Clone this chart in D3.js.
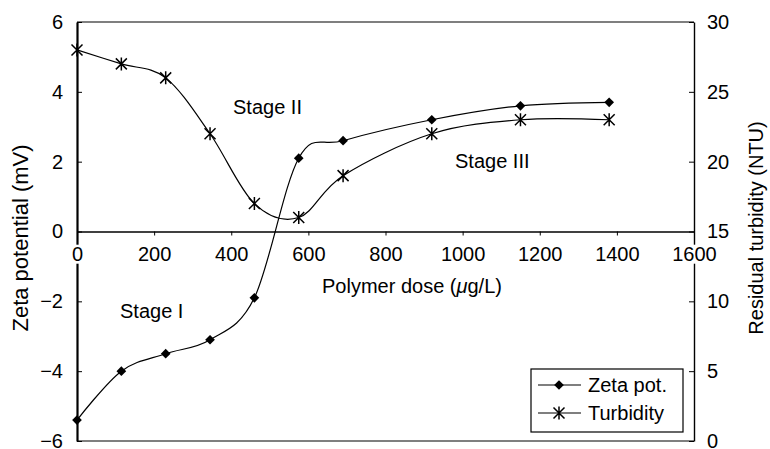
<!DOCTYPE html>
<html>
<head>
<meta charset="utf-8">
<script src="https://cdn.jsdelivr.net/npm/d3@7"></script>
<style>
  body { margin: 0; background: #fff; }
  svg text { font-family: "Liberation Sans", Arial, Helvetica, sans-serif; fill: #000; }
</style>
</head>
<body>
<svg width="770" height="449"></svg>
<script>
var doses = [0, 115, 230, 345, 460, 575, 690, 920, 1150, 1380]
var zeta = [-5.4, -4.0, -3.5, -3.1, -1.9, 2.1, 2.6, 3.2, 3.6, 3.7]
var turbidity = [28, 27, 26, 22, 17, 16, 19, 22, 23, 23]
var xTicks = [0, 200, 400, 600, 800, 1000, 1200, 1400, 1600]
var zetaTicks = [-6, -4, -2, 0, 2, 4, 6]
var turbTicks = [0, 5, 10, 15, 20, 25, 30]
var stages = [["Stage I", 120, 318], ["Stage II", 233, 114], ["Stage III", 455, 168]]

function makeChart() {
    var svg = d3.select("svg")
    var pL = 77, pR = 694, pT = 22, pB = 441

    var scX = d3.scaleLinear().domain([0, 1600]).range([pL, pR]),
        scZ = d3.scaleLinear().domain([-6, 6]).range([pB, pT]),
        scT = d3.scaleLinear().domain([0, 30]).range([pB, pT])

    // Rahmen oben/unten
    svg.append("line").attr("x1", pL).attr("x2", pR).attr("y1", pT).attr("y2", pT)
        .attr("stroke", "#000").attr("stroke-width", 1.2)
    svg.append("line").attr("x1", pL).attr("x2", pR).attr("y1", pB).attr("y2", pB)
        .attr("stroke", "#000").attr("stroke-width", 1.2)

    // linke Achse
    var axL = svg.append("g").attr("transform", "translate(" + pL + ",0)")
        .call(d3.axisLeft(scZ).tickValues(zetaTicks).tickFormat(d3.format("d"))
            .tickSize(-5).tickPadding(14).tickSizeOuter(0))
    axL.select(".domain").attr("stroke-width", 2.2)
    axL.selectAll("text").attr("font-size", 20)

    // rechte Achse
    var axR = svg.append("g").attr("transform", "translate(" + pR + ",0)")
        .call(d3.axisRight(scT).tickValues(turbTicks).tickFormat(d3.format("d"))
            .tickSize(-5).tickPadding(13).tickSizeOuter(0))
    axR.select(".domain").attr("stroke-width", 1.4)
    axR.selectAll("text").attr("font-size", 20)

    // x-Achse bei Zeta = 0, Beschriftung mit weissem Hintergrund
    var axB = svg.append("g").attr("transform", "translate(0," + scZ(0) + ")")
        .call(d3.axisBottom(scX).tickValues(xTicks).tickFormat(d3.format("d"))
            .tickSize(4).tickPadding(11).tickSizeOuter(0))
    axB.select(".domain").attr("stroke-width", 1.4)
    axB.selectAll("text").attr("font-size", 20)
    axB.selectAll(".tick").each(function () {
        var t = d3.select(this).select("text")
        var b = t.node().getBBox()
        d3.select(this).insert("rect", "text")
            .attr("x", b.x - 1).attr("y", b.y + 2).attr("width", b.width + 2).attr("height", b.height - 3)
            .attr("fill", "#fff")
    })

    // Achsentitel
    svg.append("text").attr("transform", "translate(28,238) rotate(-90)")
        .attr("text-anchor", "middle").attr("font-size", 22).text("Zeta potential (mV)")
    svg.append("text").attr("transform", "translate(763,228) rotate(-90)")
        .attr("text-anchor", "middle").attr("font-size", 20).text("Residual turbidity (NTU)")
    var xt = svg.append("text").attr("x", 412).attr("y", 293)
        .attr("text-anchor", "middle").attr("font-size", 20)
    xt.append("tspan").text("Polymer dose (")
    xt.append("tspan").attr("font-style", "italic").text("\u03bc")
    xt.append("tspan").text("g/L)")

    // Kurven
    var lineZ = d3.line().x(d => scX(d[0])).y(d => scZ(d[1])).curve(d3.curveCardinal.tension(0))
    var lineT = d3.line().x(d => scX(d[0])).y(d => scT(d[1])).curve(d3.curveCardinal.tension(0))
    var ptsZ = doses.map((d, i) => [d, zeta[i]])
    var ptsT = doses.map((d, i) => [d, turbidity[i]])

    svg.append("path").datum(ptsZ).attr("d", lineZ)
        .attr("fill", "none").attr("stroke", "#000").attr("stroke-width", 1.2)
    svg.append("path").datum(ptsT).attr("d", lineT)
        .attr("fill", "none").attr("stroke", "#000").attr("stroke-width", 1.2)

    function diamond(g, x, y) {
        g.append("path").attr("d", d3.symbol(d3.symbolDiamond2, 60)())
            .attr("transform", "translate(" + x + "," + y + ")").attr("fill", "#000")
    }
    function star(g, x, y) {
        var r = 5.5
        g.append("path")
            .attr("d", "M" + (x - r) + "," + (y - r) + "L" + (x + r) + "," + (y + r) +
                "M" + (x - r) + "," + (y + r) + "L" + (x + r) + "," + (y - r) +
                "M" + x + "," + (y - r - 1) + "L" + x + "," + (y + r + 1))
            .attr("stroke", "#000").attr("stroke-width", 1.5).attr("fill", "none")
    }

    ptsZ.forEach(d => diamond(svg, scX(d[0]), scZ(d[1])))
    ptsT.forEach(d => star(svg, scX(d[0]), scT(d[1])))

    // Stufen
    svg.selectAll("text.stage").data(stages).enter().append("text").attr("class", "stage")
        .attr("x", d => d[1]).attr("y", d => d[2])
        .attr("font-size", 20).text(d => d[0])

    // Legende
    svg.append("rect").attr("x", 531).attr("y", 369).attr("width", 152).attr("height", 63)
        .attr("fill", "#fff").attr("stroke", "#000").attr("stroke-width", 1.2)
    var legend = [["Zeta pot.", 385, diamond], ["Turbidity", 413, star]]
    legend.forEach(function (l) {
        svg.append("line").attr("x1", 538).attr("x2", 581).attr("y1", l[1]).attr("y2", l[1])
            .attr("stroke", "#000").attr("stroke-width", 1.2)
        l[2](svg, 559, l[1])
        svg.append("text").attr("x", 588).attr("y", l[1] + 7).attr("font-size", 20).text(l[0])
    })
}

makeChart()
</script>
</body>
</html>
